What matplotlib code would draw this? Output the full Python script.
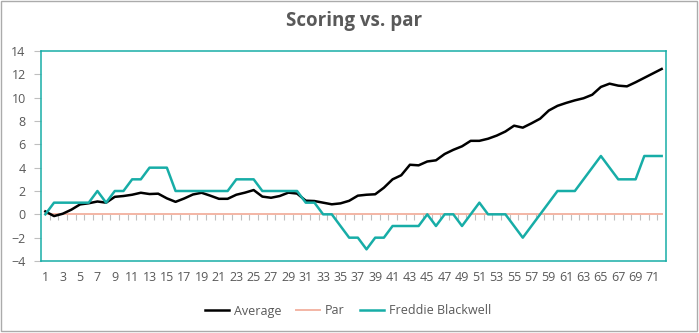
import matplotlib
matplotlib.use("Agg")
import matplotlib.pyplot as plt
from matplotlib.patches import Rectangle
import numpy as np

plt.rcParams['font.family'] = ['Open Sans', 'DejaVu Sans']

holes = list(range(1, 73))
average = [0.25, -0.15, 0.05, 0.4, 0.85, 0.95, 1.1, 1.0, 1.5, 1.57,
           1.68, 1.85, 1.74, 1.77, 1.37, 1.07, 1.36, 1.7, 1.85, 1.6,
           1.33, 1.33, 1.68, 1.86, 2.08, 1.52, 1.42, 1.57, 1.86, 1.78,
           1.17, 1.14, 1.0, 0.86, 0.94, 1.16, 1.6, 1.68, 1.72, 2.28,
           3.0, 3.35, 4.25, 4.2, 4.53, 4.63, 5.17, 5.53, 5.83, 6.3,
           6.3, 6.48, 6.75, 7.1, 7.6, 7.43, 7.8, 8.2, 8.9, 9.3,
           9.55, 9.77, 9.95, 10.25, 10.92, 11.2, 11.03, 10.97, 11.32, 11.7,
           12.08, 12.46]
par = [0] * 72
freddie = [0, 1, 1, 1, 1, 1, 2, 1, 2, 2,
           3, 3, 4, 4, 4, 2, 2, 2, 2, 2,
           2, 2, 3, 3, 3, 2, 2, 2, 2, 2,
           1, 1, 0, 0, -1, -2, -2, -3, -2, -2,
           -1, -1, -1, -1, 0, -1, 0, 0, -1, 0,
           1, 0, 0, 0, -1, -2, -1, 0, 1, 2,
           2, 2, 3, 4, 5, 4, 3, 3, 3, 5,
           5, 5]
y_ticks = list(range(-4, 15, 2))
x_labels = list(range(1, 73, 2))

TEXT = '#595959'
TEAL = '#17ADA7'
PAR = '#F3B6A5'
GRID = '#BFBFBF'

fig = plt.figure(figsize=(6.99, 3.33), dpi=100)
ax = fig.add_axes([41/699, 72/333, 625/699, 210/333])

ax.plot(holes, average, color='black', lw=1.8, solid_joinstyle='round', label='Average', zorder=4)
ax.plot(holes, par, color=PAR, lw=1.4, label='Par', zorder=3)
ax.plot(holes, freddie, color=TEAL, lw=1.8, solid_joinstyle='round', label='Freddie Blackwell', zorder=5)

ax.set_xlim(holes[0] - 0.5, holes[-1] + 0.5)
ax.set_ylim(y_ticks[0], y_ticks[-1])
ax.set_yticks(y_ticks)
ax.set_xticks(x_labels)
ax.set_xticklabels([str(v) for v in x_labels])
ax.tick_params(axis='x', length=0, pad=7, labelsize=9, labelcolor=TEXT)
ax.tick_params(axis='y', length=5, width=0.8, color=GRID, pad=6, labelsize=9, labelcolor=TEXT)
for s in ax.spines.values():
    s.set_color(TEAL)
    s.set_linewidth(1.1)

# category-boundary tick marks on the zero-crossing axis
ax2 = ax.twiny()
ax2.set_xlim(ax.get_xlim())
ax2.xaxis.set_ticks_position('bottom')
ax2.spines['bottom'].set_position(('data', 0))
for s in ax2.spines.values():
    s.set_visible(False)
ax2.set_xticks([h + 0.5 for h in holes[:-1]])
ax2.tick_params(axis='x', length=4, width=0.8, color=GRID, labelbottom=False, labeltop=False, direction='out')
ax2.patch.set_visible(False)
ax2.set_zorder(ax.get_zorder() - 1)
ax.patch.set_visible(False)

fig.text(354/699, 1 - 21/333, 'Scoring vs. par', ha='center', va='center',
         fontsize=13.5, fontweight='bold', color=TEXT)

handles, labels = ax.get_legend_handles_labels()
fig.legend(handles, labels, loc='center', bbox_to_anchor=(348/699, 1 - 311/333), ncol=3,
           frameon=False, fontsize=9, labelcolor=TEXT, handlelength=1.9,
           handletextpad=0.4, columnspacing=1.2)

fig.patches.append(Rectangle((0.5/699, 2/333), 696/699, 330.5/333, transform=fig.transFigure,
                             fill=False, edgecolor='#ABABAB', lw=1.0))

fig.savefig('out.png', dpi=100, facecolor='white')
